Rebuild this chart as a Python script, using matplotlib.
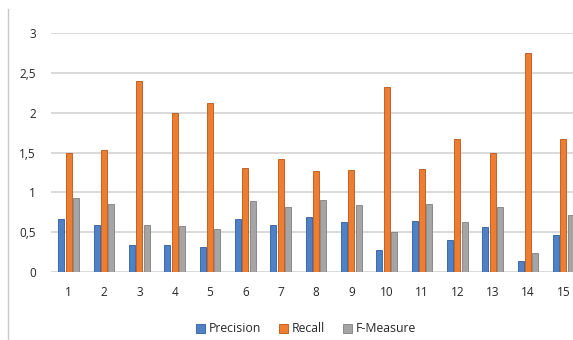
import numpy as np
import matplotlib.pyplot as plt
from matplotlib.lines import Line2D

# Scores per test case
cases = [str(i) for i in range(1, 16)]
precision = [0.665, 0.586, 0.34, 0.34, 0.314, 0.665, 0.586, 0.69, 0.627, 0.28, 0.64, 0.397, 0.56, 0.134, 0.46]
recall = [1.50, 1.535, 2.40, 2.00, 2.117, 1.30, 1.414, 1.263, 1.276, 2.325, 1.288, 1.665, 1.493, 2.744, 1.665]
f_measure = [0.925, 0.85, 0.586, 0.573, 0.536, 0.887, 0.82, 0.90, 0.837, 0.498, 0.85, 0.627, 0.81, 0.234, 0.715]
y_ticks = [0, 0.5, 1, 1.5, 2, 2.5, 3]
y_labels = ['0', '0,5', '1', '1,5', '2', '2,5', '3']

plt.rcParams['font.family'] = ['Open Sans', 'DejaVu Sans']

fig = plt.figure(figsize=(5.73, 3.40), dpi=100)
ax = fig.add_axes([51 / 573, 68 / 340, 530 / 573, 239 / 340])

x = np.arange(len(cases))
w = 0.17
step = 0.206
series = [
    ('Precision', precision, '#4F81C7', '#2E5C9A'),
    ('Recall', recall, '#ED7D31', '#B85418'),
    ('F-Measure', f_measure, '#A5A5A5', '#7F7F7F'),
]
for i, (name, vals, fc, ec) in enumerate(series):
    ax.bar(x + (i - 1) * step, vals, width=w, color=fc, edgecolor=ec,
           linewidth=0.6, label=name, zorder=3)

ax.set_xlim(-0.5, len(cases) - 0.5)
ax.set_ylim(0, 3)
ax.set_yticks(y_ticks)
ax.set_yticklabels(y_labels)
ax.set_xticks(x)
ax.set_xticklabels(cases)
ax.tick_params(axis='y', length=0, pad=11, labelsize=8.5, colors='#262626')
ax.tick_params(axis='x', length=0, pad=10, labelsize=8.5, colors='#262626')
ax.grid(axis='y', color='#D0D0D0', linewidth=1.1, zorder=0)
for s in ax.spines.values():
    s.set_visible(False)

# left frame edge
fig.add_artist(Line2D([8 / 573, 8 / 573], [0, 331 / 340], color='#C8C8C8',
                      linewidth=1.0, transform=fig.transFigure))

handles, labels = ax.get_legend_handles_labels()
fig.legend(handles, labels, loc='center', bbox_to_anchor=(306 / 573, 11 / 340),
           ncol=3, frameon=False, fontsize=8.8, handlelength=0.7, handleheight=0.7,
           handletextpad=0.3, columnspacing=1.5, labelcolor='#262626')

fig.savefig('out.png', dpi=100)
